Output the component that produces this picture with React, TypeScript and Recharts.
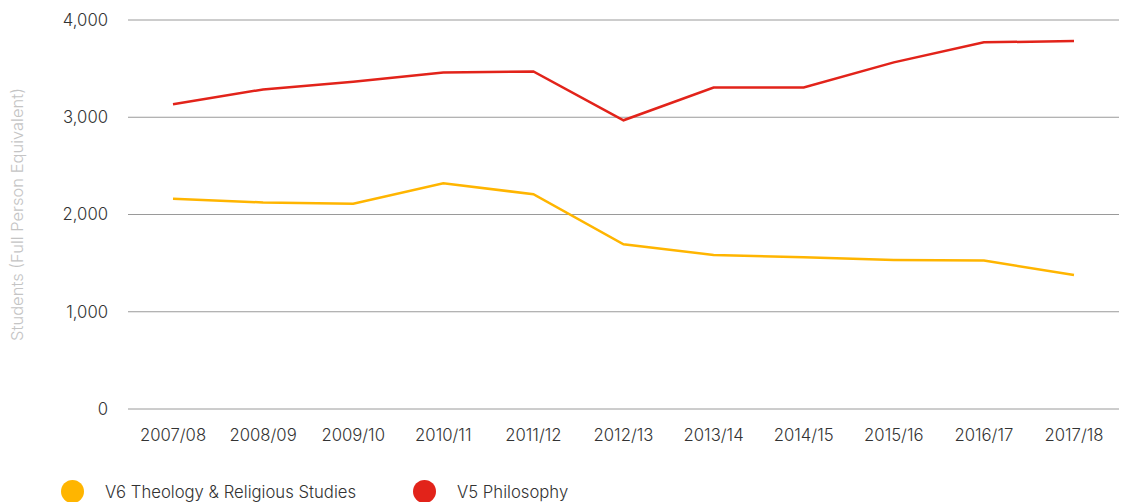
import React from "react";
import { LineChart, Line, XAxis, YAxis, CartesianGrid, Legend } from "recharts";

const years = ["2007/08", "2008/09", "2009/10", "2010/11", "2011/12", "2012/13", "2013/14", "2014/15", "2015/16", "2016/17", "2017/18"];
const theology = [2162, 2124, 2110, 2320, 2209, 1694, 1584, 1560, 1533, 1526, 1378];
const philosophy = [3134, 3286, 3364, 3460, 3471, 2969, 3306, 3306, 3564, 3770, 3784];
const yTicks = [0, 1000, 2000, 3000, 4000];

const THEO = "V6 Theology & Religious Studies";
const PHIL = "V5 Philosophy";
const YELLOW = "#ffb500";
const RED = "#e2231a";
const FONT = "Inter, 'Noto Sans', sans-serif";

const data = years.map((y, i) => ({ year: y, theo: theology[i], phil: philosophy[i] }));

const fmt = (v: number) => v.toLocaleString("en-US");

const LegendContent = () => (
  <div style={{ display: "flex", alignItems: "center", fontFamily: FONT, fontSize: 16.7, fontWeight: 300, color: "#333", paddingLeft: 61, height: 23 }}>
    <span style={{ width: 23, height: 23, borderRadius: "50%", background: YELLOW, display: "inline-block" }} />
    <span style={{ marginLeft: 21, width: 308 }}>{THEO}</span>
    <span style={{ width: 23, height: 23, borderRadius: "50%", background: RED, display: "inline-block" }} />
    <span style={{ marginLeft: 21 }}>{PHIL}</span>
  </div>
);

const YLabel = (props: any) => {
  const vb = props.viewBox || {};
  const cy = vb.y + vb.height / 2;
  const cx = 17;
  return (
    <text x={cx} y={cy} transform={`rotate(-90, ${cx}, ${cy})`} textAnchor="middle" dominantBaseline="central"
      fill="#c4c4c4" fontSize={16.5} fontWeight={300} fontFamily={FONT}>
      Students (Full Person Equivalent)
    </text>
  );
};

export default function App() {
  return (
    <div style={{ position: "absolute", left: 0, top: 0, background: "#fff" }}>
      <LineChart width={1127} height={502} data={data} margin={{ top: 20, right: 8, bottom: 0, left: 0 }}>
        <CartesianGrid vertical={false} stroke="#9a9a9a" strokeWidth={1} />
        <XAxis dataKey="year" axisLine={false} tickLine={false} tickSize={0} tickMargin={20}
          padding={{ left: 45, right: 45 }} interval={0}
          tick={{ fill: "#333", fontSize: 16.7, fontWeight: 300, fontFamily: FONT }} height={70} />
        <YAxis domain={[0, 4000]} ticks={yTicks} tickFormatter={fmt} axisLine={false} tickLine={false}
          tickSize={0} tickMargin={20} width={128}
          tick={{ fill: "#333", fontSize: 16.7, fontWeight: 300, fontFamily: FONT }} label={<YLabel />} />
        <Legend verticalAlign="bottom" align="left" content={<LegendContent />} wrapperStyle={{ left: 0, bottom: -1 }} />
        <Line type="linear" dataKey="theo" name={THEO} stroke={YELLOW} strokeWidth={2.5} dot={false} isAnimationActive={false} />
        <Line type="linear" dataKey="phil" name={PHIL} stroke={RED} strokeWidth={2.5} dot={false} isAnimationActive={false} />
      </LineChart>
    </div>
  );
}
